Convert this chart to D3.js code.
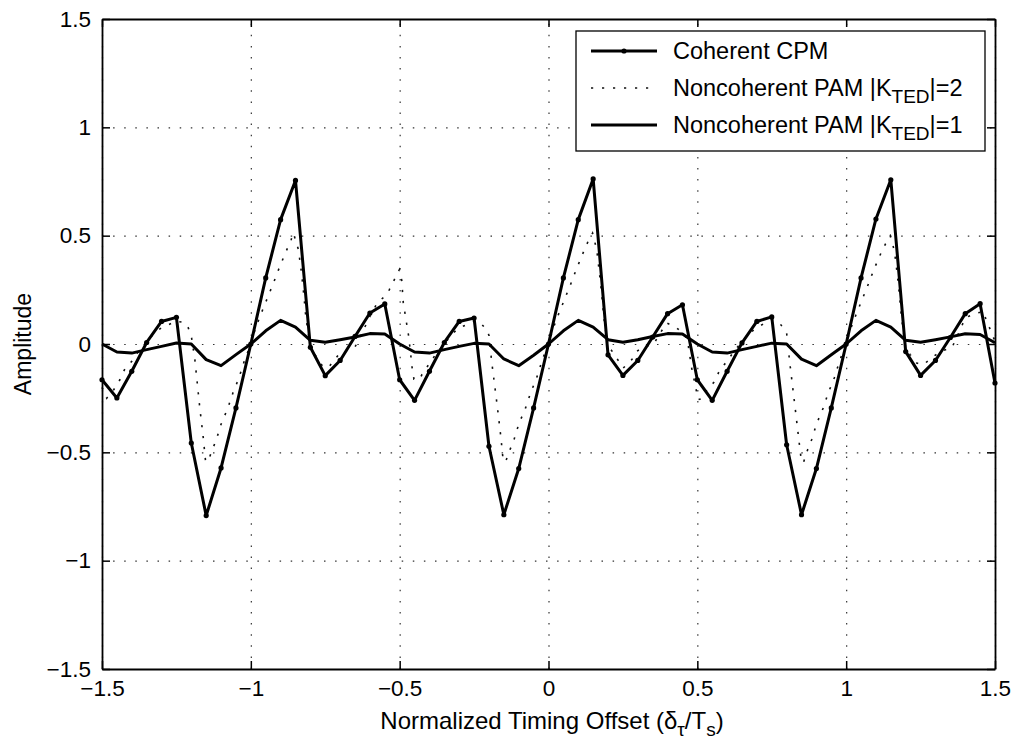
<!DOCTYPE html>
<html>
<head>
<meta charset="utf-8">
<script src="https://cdn.jsdelivr.net/npm/d3@7"></script>
<style>
  body { margin: 0; background: #fff; }
  svg { font-family: "Liberation Sans", Arial, Helvetica, sans-serif; }
</style>
</head>
<body>
<div id="container"></div>
<script>
const width = 1018;
const height = 742;
const plot = { left: 102, top: 19, right: 995, bottom: 669 };

// sample grid of the coarse series (step 0.05)
const xCoarse = [
  -1.5, -1.45, -1.4, -1.35, -1.3, -1.25, -1.2, -1.15, -1.1, -1.05,
  -1.0, -0.95, -0.9, -0.85, -0.8, -0.75, -0.7, -0.65, -0.6, -0.55,
  -0.5, -0.45, -0.4, -0.35, -0.3, -0.25, -0.2, -0.15, -0.1, -0.05,
  0, 0.05, 0.1, 0.15, 0.2, 0.25, 0.3, 0.35, 0.4, 0.45,
  0.5, 0.55, 0.6, 0.65, 0.7, 0.75, 0.8, 0.85, 0.9, 0.95,
  1.0, 1.05, 1.1, 1.15, 1.2, 1.25, 1.3, 1.35, 1.4, 1.45, 1.5
];

const coherentCPM = [
  -0.165, -0.249, -0.126, 0.007, 0.104, 0.123, -0.457, -0.792, -0.572, -0.295,
  0.0, 0.305, 0.574, 0.755, -0.015, -0.146, -0.076, 0.035, 0.143, 0.185,
  -0.165, -0.26, -0.126, 0.007, 0.104, 0.12, -0.472, -0.788, -0.575, -0.295,
  0.0, 0.305, 0.574, 0.762, -0.05, -0.145, -0.076, 0.032, 0.14, 0.181,
  -0.165, -0.26, -0.126, 0.005, 0.104, 0.125, -0.465, -0.788, -0.575, -0.295,
  0.0, 0.305, 0.577, 0.758, -0.035, -0.145, -0.076, 0.03, 0.14, 0.186, -0.18
];

const noncoherentK1 = [
  0.0, -0.037, -0.042, -0.026, -0.011, 0.005, 0.0, -0.072, -0.1, -0.049,
  0.0, 0.061, 0.109, 0.078, 0.017, 0.008, 0.02, 0.032, 0.048, 0.046,
  0.0, -0.037, -0.042, -0.026, -0.011, 0.003, 0.0, -0.069, -0.1, -0.052,
  0.0, 0.061, 0.109, 0.078, 0.02, 0.008, 0.02, 0.035, 0.048, 0.046,
  0.0, -0.037, -0.042, -0.026, -0.011, 0.004, 0.0, -0.07, -0.1, -0.05,
  0.0, 0.061, 0.109, 0.078, 0.017, 0.008, 0.02, 0.033, 0.047, 0.044, 0.006
];

// the dotted series is sampled more finely
const xK2 = [
  -1.5, -1.484, -1.46, -1.44, -1.425, -1.4, -1.375, -1.35, -1.325, -1.3,
  -1.275, -1.25, -1.225, -1.21, -1.199, -1.188, -1.172, -1.16, -1.152, -1.143,
  -1.13, -1.116, -1.1, -1.077, -1.06, -1.04, -1.02, -1.0, -0.985, -0.967,
  -0.945, -0.925, -0.905, -0.883, -0.865, -0.857, -0.84, -0.83, -0.822, -0.815,
  -0.8, -0.78, -0.76, -0.74, -0.72, -0.7, -0.678, -0.65, -0.617, -0.6,
  -0.575, -0.55, -0.535, -0.519, -0.501, -0.493, -0.488, -0.476, -0.47, -0.462,
  -0.458, -0.452, -0.432, -0.425, -0.4, -0.375, -0.35, -0.325, -0.3, -0.275,
  -0.25, -0.233, -0.208, -0.2, -0.191, -0.172, -0.16, -0.152, -0.143, -0.13,
  -0.116, -0.1, -0.077, -0.06, -0.04, -0.02, 0.0, 0.015, 0.033, 0.055,
  0.075, 0.095, 0.117, 0.135, 0.148, 0.162, 0.171, 0.179, 0.186, 0.2,
  0.207, 0.229, 0.251, 0.28, 0.296, 0.325, 0.352, 0.375, 0.397, 0.425,
  0.459, 0.47, 0.481, 0.496, 0.503, 0.515, 0.532, 0.559, 0.575, 0.6,
  0.625, 0.65, 0.675, 0.7, 0.725, 0.75, 0.775, 0.8, 0.81, 0.828,
  0.84, 0.85, 0.857, 0.87, 0.884, 0.9, 0.923, 0.94, 0.96, 0.98,
  1.0, 1.015, 1.033, 1.055, 1.075, 1.095, 1.117, 1.135, 1.148, 1.162,
  1.171, 1.179, 1.186, 1.2, 1.215, 1.237, 1.259, 1.293, 1.325, 1.355,
  1.383, 1.4, 1.43, 1.461, 1.472, 1.487, 1.5
];

const noncoherentK2 = [
  -0.2, -0.25, -0.21, -0.165, -0.12, -0.08, -0.03, 0.01, 0.05, 0.075,
  0.09, 0.105, 0.1, 0.074, 0.028, -0.072, -0.288, -0.43, -0.542, -0.539,
  -0.49, -0.442, -0.37, -0.295, -0.225, -0.157, -0.07, 0.0, 0.07, 0.135,
  0.21, 0.278, 0.35, 0.423, 0.48, 0.512, 0.435, 0.33, 0.227, 0.12,
  -0.01, -0.06, -0.1, -0.11, -0.075, -0.04, -0.03, -0.014, 0.078, 0.127,
  0.19, 0.22, 0.25, 0.294, 0.343, 0.294, 0.192, 0.089, 0.038, -0.06,
  -0.111, -0.162, -0.162, -0.14, -0.09, -0.04, 0.0, 0.045, 0.075, 0.089,
  0.105, 0.104, 0.066, 0.04, -0.08, -0.288, -0.43, -0.542, -0.539, -0.49,
  -0.442, -0.37, -0.295, -0.225, -0.157, -0.07, 0.0, 0.07, 0.135, 0.21,
  0.278, 0.35, 0.423, 0.48, 0.512, 0.435, 0.33, 0.227, 0.12, -0.018,
  -0.02, -0.065, -0.111, -0.072, -0.034, -0.01, -0.003, 0.05, 0.097, 0.08,
  0.043, -0.011, -0.111, -0.211, -0.257, -0.252, -0.211, -0.172, -0.12, -0.08,
  -0.03, 0.01, 0.05, 0.075, 0.095, 0.11, 0.1, 0.05, -0.08, -0.288,
  -0.43, -0.545, -0.545, -0.49, -0.442, -0.37, -0.295, -0.225, -0.157, -0.07,
  0.0, 0.07, 0.135, 0.21, 0.278, 0.35, 0.42, 0.47, 0.5, 0.43,
  0.33, 0.227, 0.12, -0.02, -0.049, -0.088, -0.096, -0.057, -0.03, -0.018,
  0.066, 0.12, 0.14, 0.15, 0.104, 0.058, 0.012
];

const xTicks = [-1.5, -1, -0.5, 0, 0.5, 1, 1.5];
const yTicks = [-1.5, -1, -0.5, 0, 0.5, 1, 1.5];
const legendLabels = ["Coherent CPM", "Noncoherent PAM |K", "Noncoherent PAM |K"];
const legendSuffix = ["", "|=2", "|=1"];

const svg = d3.select("#container")
  .append("svg")
  .attr("width", width)
  .attr("height", height);

const x = d3.scaleLinear().domain([-1.5, 1.5]).range([plot.left, plot.right]);
const y = d3.scaleLinear().domain([-1.5, 1.5]).range([plot.bottom, plot.top]);
const fmt = d3.format("");
const pw = plot.right - plot.left;
const ph = plot.bottom - plot.top;

// grid
svg.append("g")
  .attr("transform", `translate(0,${plot.bottom})`)
  .call(d3.axisBottom(x).tickValues(xTicks).tickSize(-ph).tickFormat(""))
  .call(g => g.select(".domain").remove())
  .selectAll("line")
  .attr("stroke", "#333")
  .attr("stroke-width", 1.2)
  .attr("stroke-dasharray", "1.5,9.6");

svg.append("g")
  .attr("transform", `translate(${plot.left},0)`)
  .call(d3.axisLeft(y).tickValues(yTicks).tickSize(-pw).tickFormat(""))
  .call(g => g.select(".domain").remove())
  .selectAll("line")
  .attr("stroke", "#333")
  .attr("stroke-width", 1.2)
  .attr("stroke-dasharray", "1.5,9.6");

// series
const coarse = xCoarse.map((d, i) => ({ x: d, c: coherentCPM[i], k1: noncoherentK1[i] }));
const fine = xK2.map((d, i) => ({ x: d, y: noncoherentK2[i] }));

svg.append("path")
  .datum(fine)
  .attr("fill", "none")
  .attr("stroke", "#111")
  .attr("stroke-width", 1.6)
  .attr("stroke-dasharray", "2.2,8.8")
  .attr("d", d3.line().x(d => x(d.x)).y(d => y(d.y)));

svg.append("path")
  .datum(coarse)
  .attr("fill", "none")
  .attr("stroke", "#000")
  .attr("stroke-width", 3)
  .attr("stroke-linejoin", "round")
  .attr("d", d3.line().x(d => x(d.x)).y(d => y(d.k1)));

svg.append("path")
  .datum(coarse)
  .attr("fill", "none")
  .attr("stroke", "#000")
  .attr("stroke-width", 3)
  .attr("stroke-linejoin", "round")
  .attr("d", d3.line().x(d => x(d.x)).y(d => y(d.c)));

svg.append("g")
  .selectAll("circle")
  .data(coarse)
  .enter()
  .append("circle")
  .attr("cx", d => x(d.x))
  .attr("cy", d => y(d.c))
  .attr("r", 2.6)
  .attr("fill", "#000");

// axes, MATLAB style: ticks inside on all four sides
const tickLen = 8;
const axisStyle = g => {
  g.select(".domain").attr("stroke", "#000").attr("stroke-width", 1.8);
  g.selectAll(".tick line").attr("stroke", "#000").attr("stroke-width", 1.5);
  g.selectAll("text").attr("font-size", 22.5).attr("fill", "#000")
    .attr("font-family", "Liberation Sans, Arial, sans-serif");
};

svg.append("g")
  .attr("transform", `translate(0,${plot.bottom})`)
  .call(d3.axisBottom(x).tickValues(xTicks).tickFormat(fmt).tickSizeOuter(0).tickSizeInner(-tickLen).tickPadding(11))
  .call(axisStyle);

svg.append("g")
  .attr("transform", `translate(0,${plot.top})`)
  .call(d3.axisTop(x).tickValues(xTicks).tickFormat("").tickSizeOuter(0).tickSizeInner(-tickLen))
  .call(axisStyle);

svg.append("g")
  .attr("transform", `translate(${plot.left},0)`)
  .call(d3.axisLeft(y).tickValues(yTicks).tickFormat(fmt).tickSizeOuter(0).tickSizeInner(-tickLen).tickPadding(11))
  .call(axisStyle);

svg.append("g")
  .attr("transform", `translate(${plot.right},0)`)
  .call(d3.axisRight(y).tickValues(yTicks).tickFormat("").tickSizeOuter(0).tickSizeInner(-tickLen))
  .call(axisStyle);

// axis titles
const xTitle = svg.append("text")
  .attr("x", 552)
  .attr("y", 729)
  .attr("text-anchor", "middle")
  .attr("font-size", 24);
xTitle.append("tspan").text("Normalized Timing Offset (δ");
xTitle.append("tspan").attr("dy", 7).attr("font-size", 19).text("τ");
xTitle.append("tspan").attr("dy", -7).text("/T");
xTitle.append("tspan").attr("dy", 7).attr("font-size", 19).text("s");
xTitle.append("tspan").attr("dy", -7).text(")");

svg.append("text")
  .attr("transform", `translate(31,${(plot.top + plot.bottom) / 2}) rotate(-90)`)
  .attr("text-anchor", "middle")
  .attr("font-size", 23)
  .text("Amplitude");

// legend
const legend = svg.append("g");
legend.append("rect")
  .attr("x", 576).attr("y", 31)
  .attr("width", 409).attr("height", 120)
  .attr("fill", "#fff")
  .attr("stroke", "#000")
  .attr("stroke-width", 1.3);

const rows = [51, 88, 125];
rows.forEach((ry, i) => {
  const line = legend.append("line")
    .attr("x1", 591).attr("x2", 657)
    .attr("y1", ry).attr("y2", ry)
    .attr("stroke", i === 1 ? "#111" : "#000")
    .attr("stroke-width", i === 1 ? 1.6 : 3);
  if (i === 1) line.attr("stroke-dasharray", "2.2,8.8");
  if (i === 0) {
    legend.append("circle").attr("cx", 624).attr("cy", ry).attr("r", 2.6).attr("fill", "#000");
  }
  const t = legend.append("text")
    .attr("x", 673).attr("y", ry + 8)
    .attr("font-size", 23.5);
  t.append("tspan").text(legendLabels[i]);
  if (i > 0) {
    t.append("tspan").attr("dy", 7).attr("font-size", 19).text("TED");
    t.append("tspan").attr("dy", -7).text(legendSuffix[i]);
  }
});
</script>
</body>
</html>
